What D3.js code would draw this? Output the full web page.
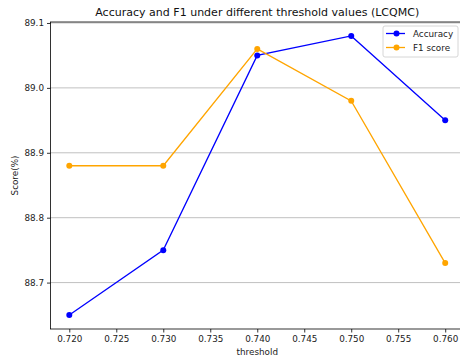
<!DOCTYPE html>
<html>
<head>
<meta charset="utf-8">
<script src="https://cdn.jsdelivr.net/npm/d3@7"></script>
<style>
  body { margin: 0; background: #fff; }
  svg { display: block; font-family: "DejaVu Sans", sans-serif; }
</style>
</head>
<body>
<div id="chart"></div>
<script>
const thresholds = [0.72, 0.73, 0.74, 0.75, 0.76];
const accuracy = [88.65, 88.75, 89.05, 89.08, 88.95];
const f1Score = [88.88, 88.88, 89.06, 88.98, 88.73];
const xTicks = [0.72, 0.725, 0.73, 0.735, 0.74, 0.745, 0.75, 0.755, 0.76];
const yTicks = [88.7, 88.8, 88.9, 89.0, 89.1];

const series = [
  { name: 'Accuracy', values: accuracy, color: '#0000ff' },
  { name: 'F1 score', values: f1Score, color: '#ffa500' },
];

const width = 460, height = 361;
const margin = { top: 22, right: -4, bottom: 32, left: 50.5 };
const innerW = width - margin.left - margin.right;
const innerH = height - margin.top - margin.bottom;

const svg = d3.select('#chart').append('svg')
  .attr('width', width)
  .attr('height', height);

const g = svg.append('g')
  .attr('transform', `translate(${margin.left},${margin.top})`);

const x = d3.scaleLinear().domain([0.718, 0.762]).range([0, innerW]);
const y = d3.scaleLinear().domain([88.6285, 89.1015]).range([innerH, 0]);

// grid lines
g.append('g')
  .selectAll('line')
  .data(yTicks)
  .enter()
  .append('line')
  .attr('x1', 0)
  .attr('x2', innerW)
  .attr('y1', d => y(d))
  .attr('y2', d => y(d))
  .style('stroke', '#b0b0b0')
  .style('stroke-width', 0.8);

const line = d3.line()
  .x((d, i) => x(thresholds[i]))
  .y(d => y(d));

series.forEach(s => {
  g.append('path')
    .datum(s.values)
    .attr('d', line)
    .style('fill', 'none')
    .style('stroke', s.color)
    .style('stroke-width', 1.3);
  g.selectAll(null)
    .data(s.values)
    .enter()
    .append('circle')
    .attr('cx', (d, i) => x(thresholds[i]))
    .attr('cy', d => y(d))
    .attr('r', 3)
    .style('fill', s.color);
});

// axes
const xAxis = g.append('g')
  .attr('transform', `translate(0,${innerH})`)
  .call(d3.axisBottom(x).tickValues(xTicks).tickFormat(d3.format('.3f')).tickSize(3.5).tickPadding(3));
const yAxis = g.append('g')
  .call(d3.axisLeft(y).tickValues(yTicks).tickFormat(d3.format('.1f')).tickSize(3.5).tickPadding(3));

[xAxis, yAxis].forEach(a => {
  a.select('.domain').remove();
  a.selectAll('line').style('stroke', '#000').style('stroke-width', 0.8);
  a.selectAll('text')
    .style('font-family', '"DejaVu Sans", sans-serif')
    .style('font-size', '8.8px')
    .style('fill', '#222');
});

// spines
g.append('rect')
  .attr('x', 0)
  .attr('y', 0)
  .attr('width', innerW)
  .attr('height', innerH)
  .style('fill', 'none')
  .style('stroke', '#000')
  .style('stroke-width', 0.8);

// titles
const title = svg.append('text')
  .attr('x', margin.left + innerW / 2)
  .attr('y', 16)
  .attr('text-anchor', 'middle')
  .style('font-size', '10.4px')
  .style('fill', '#111')
  .text('Accuracy and F1 under different threshold values (LCQMC)');
// size the title to the width it has in the picture
const tw = title.node().getComputedTextLength();
title.style('font-size', `${(10.4 * 324 / tw).toFixed(2)}px`);

svg.append('text')
  .attr('x', margin.left + innerW / 2)
  .attr('y', 355)
  .attr('text-anchor', 'middle')
  .style('font-size', '8.8px')
  .style('fill', '#222')
  .text('threshold');

svg.append('text')
  .attr('transform', `translate(18,${margin.top + innerH / 2}) rotate(-90)`)
  .attr('text-anchor', 'middle')
  .style('font-size', '8.8px')
  .style('fill', '#222')
  .text('Score(%)');

// legend
const legend = svg.append('g').attr('transform', 'translate(383,26)');
legend.append('rect')
  .attr('width', 75)
  .attr('height', 31)
  .attr('rx', 2)
  .style('fill', 'rgba(255,255,255,0.8)')
  .style('stroke', '#cccccc')
  .style('stroke-width', 0.8);

const items = legend.selectAll('.item')
  .data(series)
  .enter()
  .append('g')
  .attr('transform', (d, i) => `translate(0,${7.5 + i * 14})`);
items.append('line')
  .attr('x1', 3)
  .attr('x2', 22)
  .style('stroke', d => d.color)
  .style('stroke-width', 1.3);
items.append('circle')
  .attr('cx', 13.5)
  .attr('r', 3)
  .style('fill', d => d.color);
items.append('text')
  .attr('x', 30)
  .attr('dy', '0.35em')
  .style('font-size', '8.8px')
  .style('fill', '#222')
  .text(d => d.name);
</script>
</body>
</html>
